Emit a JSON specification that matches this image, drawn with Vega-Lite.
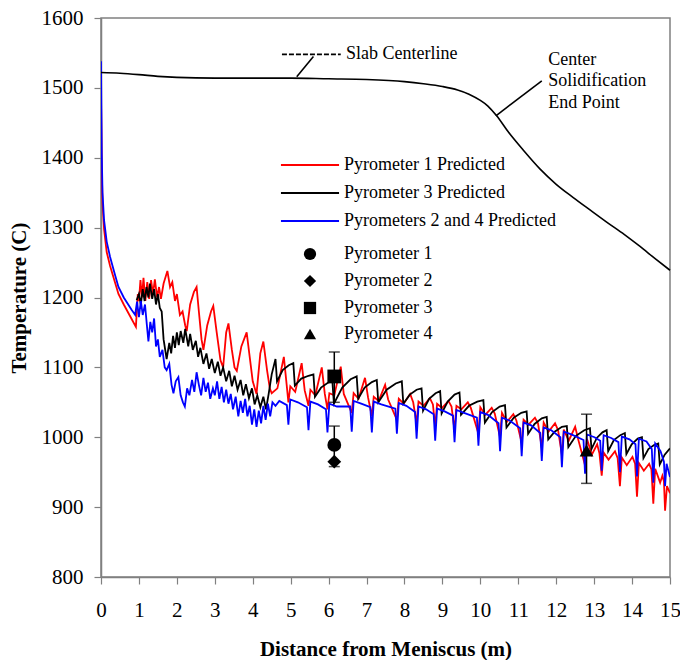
{
  "$schema": "https://vega.github.io/schema/vega-lite/v6.json",
  "width": 569,
  "height": 559,
  "autosize": {"type": "none"},
  "padding": {"left": 101, "top": 18, "right": 10, "bottom": 83},
  "background": "white",
  "config": {
    "font": "Liberation Serif",
    "view": {"stroke": "#808080", "strokeWidth": 1.5},
    "axis": {
      "grid": false, "domainColor": "#808080", "tickColor": "#808080", "domainWidth": 1.5, "tickWidth": 1.2,
      "labelColor": "#000", "titleColor": "#000", "labelFont": "Liberation Serif", "titleFont": "Liberation Serif",
      "labelFontSize": 21, "titleFontSize": 21, "titleFontWeight": "bold", "tickSize": 7, "labelFlush": false
    }
  },
  "datasets": {
    "red": [
      {"x":0,"y":1490},{"x":0.01,"y":1440},{"x":0.02,"y":1385},{"x":0.04,"y":1335},{"x":0.08,"y":1298},{"x":0.15,"y":1265},{"x":0.24,"y":1245},{"x":0.35,"y":1225},{"x":0.46,"y":1205},{"x":0.6,"y":1190},{"x":0.8,"y":1170},{"x":0.92,"y":1158},
      {"x":0.97,"y":1205},{"x":1.0,"y":1195},{"x":1.04,"y":1225},{"x":1.08,"y":1200},{"x":1.12,"y":1228},{"x":1.17,"y":1195},{"x":1.22,"y":1222},{"x":1.27,"y":1198},{"x":1.32,"y":1225},{"x":1.37,"y":1205},{"x":1.42,"y":1226},{"x":1.48,"y":1200},{"x":1.53,"y":1215},{"x":1.58,"y":1198},{"x":1.65,"y":1220},{"x":1.75,"y":1238},{"x":1.82,"y":1215},{"x":1.88,"y":1222},{"x":1.95,"y":1195},{"x":2.0,"y":1205},{"x":2.08,"y":1175},{"x":2.15,"y":1180},{"x":2.22,"y":1160},{"x":2.26,"y":1152},{"x":2.35,"y":1190},{"x":2.45,"y":1208},{"x":2.52,"y":1215},{"x":2.58,"y":1180},{"x":2.65,"y":1140},{"x":2.7,"y":1125},{"x":2.8,"y":1160},{"x":2.9,"y":1180},{"x":2.96,"y":1188},{"x":3.05,"y":1150},{"x":3.15,"y":1110},{"x":3.22,"y":1100},{"x":3.3,"y":1150},{"x":3.36,"y":1163},{"x":3.45,"y":1125},{"x":3.52,"y":1100},{"x":3.58,"y":1095},{"x":3.7,"y":1130},{"x":3.84,"y":1150},{"x":3.92,"y":1115},{"x":4.0,"y":1080},{"x":4.1,"y":1062},{"x":4.2,"y":1120},{"x":4.28,"y":1137},{"x":4.38,"y":1095},{"x":4.45,"y":1070},{"x":4.5,"y":1063},
      {"x":4.65,"y":1070},{"x":4.82,"y":1115},{"x":4.9,"y":1072},{"x":4.94,"y":1050},{"x":4.99,"y":1073},
      {"x":5.12,"y":1065},{"x":5.29,"y":1106},{"x":5.37,"y":1067},{"x":5.47,"y":1045},{"x":5.52,"y":1068},
      {"x":5.65,"y":1060},{"x":5.82,"y":1100},{"x":5.9,"y":1062},{"x":5.97,"y":1040},{"x":6.02,"y":1063},
      {"x":6.15,"y":1060},{"x":6.32,"y":1101},{"x":6.4,"y":1062},{"x":6.61,"y":1035},{"x":6.66,"y":1063},
      {"x":6.79,"y":1055},{"x":6.96,"y":1085},{"x":7.04,"y":1057},{"x":7.14,"y":1030},{"x":7.19,"y":1058},
      {"x":7.32,"y":1052},{"x":7.49,"y":1075},{"x":7.57,"y":1054},{"x":7.8,"y":1025},{"x":7.85,"y":1055},
      {"x":7.98,"y":1048},{"x":8.15,"y":1062},{"x":8.23,"y":1050},{"x":8.32,"y":1020},{"x":8.37,"y":1051},
      {"x":8.5,"y":1045},{"x":8.67,"y":1056},{"x":8.75,"y":1047},{"x":8.81,"y":1015},{"x":8.86,"y":1048},
      {"x":8.99,"y":1042},{"x":9.16,"y":1052},{"x":9.24,"y":1044},{"x":9.32,"y":1010},{"x":9.37,"y":1045},
      {"x":9.5,"y":1040},{"x":9.67,"y":1050},{"x":9.75,"y":1042},{"x":9.95,"y":1005},{"x":10.0,"y":1043},
      {"x":10.13,"y":1032},{"x":10.3,"y":1042},{"x":10.38,"y":1034},{"x":10.52,"y":1000},{"x":10.57,"y":1035},
      {"x":10.7,"y":1022},{"x":10.87,"y":1033},{"x":10.95,"y":1024},{"x":11.09,"y":992},{"x":11.14,"y":1025},
      {"x":11.27,"y":1018},{"x":11.44,"y":1028},{"x":11.52,"y":1020},{"x":11.62,"y":985},{"x":11.67,"y":1021},
      {"x":11.8,"y":1008},{"x":11.97,"y":1020},{"x":12.05,"y":1010},{"x":12.15,"y":975},{"x":12.2,"y":1011},
      {"x":12.33,"y":995},{"x":12.5,"y":1015},{"x":12.58,"y":997},{"x":12.76,"y":960},{"x":12.81,"y":998},
      {"x":12.94,"y":975},{"x":13.08,"y":990},{"x":13.14,"y":977},{"x":13.2,"y":945},{"x":13.25,"y":978},
      {"x":13.38,"y":968},{"x":13.55,"y":980},{"x":13.62,"y":970},{"x":13.68,"y":930},{"x":13.73,"y":971},
      {"x":13.86,"y":960},{"x":14.01,"y":972},{"x":14.08,"y":962},{"x":14.13,"y":915},{"x":14.18,"y":963},
      {"x":14.31,"y":952},{"x":14.45,"y":962},{"x":14.51,"y":954},{"x":14.56,"y":905},{"x":14.61,"y":955},
      {"x":14.74,"y":935},{"x":14.8,"y":945},{"x":14.84,"y":937},{"x":14.87,"y":895},{"x":14.92,"y":930},{"x":15.0,"y":920}
    ],
    "black": [
      {"x":0.94,"y":1196},{"x":1.0,"y":1205},{"x":1.05,"y":1190},{"x":1.1,"y":1212},{"x":1.15,"y":1195},{"x":1.2,"y":1215},{"x":1.25,"y":1200},{"x":1.29,"y":1220},{"x":1.35,"y":1198},{"x":1.4,"y":1212},{"x":1.45,"y":1190},{"x":1.5,"y":1205},{"x":1.55,"y":1185},{"x":1.6,"y":1180},{"x":1.65,"y":1140},{"x":1.73,"y":1112},{"x":1.8,"y":1135},{"x":1.85,"y":1120},{"x":1.9,"y":1145},{"x":1.95,"y":1128},{"x":2.0,"y":1150},{"x":2.05,"y":1132},{"x":2.1,"y":1152},{"x":2.17,"y":1135},{"x":2.22,"y":1155},{"x":2.3,"y":1130},{"x":2.35,"y":1148},{"x":2.42,"y":1125},{"x":2.5,"y":1138},{"x":2.56,"y":1115},{"x":2.62,"y":1128},{"x":2.7,"y":1105},{"x":2.78,"y":1120},{"x":2.85,"y":1098},{"x":2.92,"y":1112},{"x":3.0,"y":1092},{"x":3.08,"y":1108},{"x":3.15,"y":1088},{"x":3.22,"y":1100},{"x":3.3,"y":1080},{"x":3.38,"y":1095},{"x":3.45,"y":1073},{"x":3.52,"y":1088},{"x":3.6,"y":1068},{"x":3.68,"y":1082},{"x":3.75,"y":1060},{"x":3.82,"y":1076},{"x":3.9,"y":1056},{"x":3.98,"y":1070},{"x":4.05,"y":1047},{"x":4.12,"y":1060},{"x":4.2,"y":1043},{"x":4.28,"y":1058},{"x":4.35,"y":1040},{"x":4.42,"y":1062},{"x":4.5,"y":1090},{"x":4.6,"y":1112},
      {"x":4.64,"y":1080},{"x":4.79,"y":1096},{"x":4.95,"y":1103},{"x":5.07,"y":1106},{"x":5.11,"y":1074},{"x":5.28,"y":1084},{"x":5.47,"y":1088},{"x":5.6,"y":1090},{"x":5.64,"y":1058},{"x":5.8,"y":1071},{"x":5.98,"y":1078},{"x":6.1,"y":1080},{"x":6.14,"y":1048},{"x":6.36,"y":1071},{"x":6.58,"y":1083},{"x":6.74,"y":1087},{"x":6.78,"y":1055},{"x":6.95,"y":1071},{"x":7.14,"y":1079},{"x":7.27,"y":1082},{"x":7.31,"y":1050},{"x":7.53,"y":1068},{"x":7.77,"y":1077},{"x":7.93,"y":1080},{"x":7.97,"y":1048},{"x":8.14,"y":1061},{"x":8.32,"y":1068},{"x":8.45,"y":1070},{"x":8.49,"y":1038},{"x":8.65,"y":1055},{"x":8.82,"y":1063},{"x":8.94,"y":1066},{"x":8.98,"y":1034},{"x":9.14,"y":1051},{"x":9.32,"y":1061},{"x":9.45,"y":1064},{"x":9.49,"y":1032},{"x":9.7,"y":1045},{"x":9.92,"y":1051},{"x":10.08,"y":1053},{"x":10.12,"y":1021},{"x":10.31,"y":1036},{"x":10.51,"y":1044},{"x":10.65,"y":1046},{"x":10.69,"y":1014},{"x":10.88,"y":1028},{"x":11.08,"y":1035},{"x":11.22,"y":1037},{"x":11.26,"y":1005},{"x":11.43,"y":1019},{"x":11.62,"y":1027},{"x":11.75,"y":1029},{"x":11.79,"y":997},{"x":11.96,"y":1008},{"x":12.15,"y":1015},{"x":12.28,"y":1016},{"x":12.32,"y":986},{"x":12.52,"y":1002},{"x":12.74,"y":1010},{"x":12.89,"y":1013},{"x":12.93,"y":983},{"x":13.07,"y":999},{"x":13.22,"y":1007},{"x":13.33,"y":1010},{"x":13.37,"y":980},{"x":13.52,"y":996},{"x":13.69,"y":1003},{"x":13.81,"y":1006},{"x":13.85,"y":976},{"x":13.99,"y":990},{"x":14.15,"y":998},{"x":14.26,"y":1000},{"x":14.3,"y":970},{"x":14.43,"y":983},{"x":14.58,"y":989},{"x":14.69,"y":991},{"x":14.73,"y":961},{"x":14.86,"y":975},{"x":15.0,"y":984}
    ],
    "blue": [
      {"x":0,"y":1538},{"x":0.01,"y":1470},{"x":0.02,"y":1406},{"x":0.04,"y":1350},{"x":0.08,"y":1311},{"x":0.15,"y":1280},{"x":0.24,"y":1258},{"x":0.35,"y":1236},{"x":0.46,"y":1215},{"x":0.6,"y":1200},{"x":0.81,"y":1182},{"x":0.9,"y":1175},
      {"x":0.95,"y":1194},{"x":1.0,"y":1172},{"x":1.05,"y":1195},{"x":1.1,"y":1175},{"x":1.16,"y":1190},{"x":1.21,"y":1160},{"x":1.25,"y":1137},{"x":1.3,"y":1165},{"x":1.35,"y":1150},{"x":1.4,"y":1170},{"x":1.45,"y":1130},{"x":1.5,"y":1140},{"x":1.55,"y":1115},{"x":1.62,"y":1125},{"x":1.68,"y":1100},{"x":1.73,"y":1096},{"x":1.8,"y":1105},{"x":1.86,"y":1075},{"x":1.91,"y":1063},{"x":1.97,"y":1080},{"x":2.04,"y":1086},{"x":2.1,"y":1060},{"x":2.16,"y":1050},{"x":2.21,"y":1044},{"x":2.27,"y":1070},{"x":2.33,"y":1060},{"x":2.4,"y":1082},{"x":2.46,"y":1065},{"x":2.52,"y":1093},{"x":2.58,"y":1075},{"x":2.64,"y":1060},{"x":2.7,"y":1085},{"x":2.76,"y":1065},{"x":2.82,"y":1078},{"x":2.88,"y":1055},{"x":2.95,"y":1070},{"x":3.0,"y":1060},{"x":3.06,"y":1080},{"x":3.12,"y":1055},{"x":3.18,"y":1072},{"x":3.24,"y":1050},{"x":3.3,"y":1068},{"x":3.36,"y":1048},{"x":3.42,"y":1062},{"x":3.48,"y":1040},{"x":3.55,"y":1058},{"x":3.62,"y":1030},{"x":3.68,"y":1052},{"x":3.74,"y":1035},{"x":3.8,"y":1055},{"x":3.86,"y":1030},{"x":3.92,"y":1045},{"x":3.98,"y":1018},{"x":4.04,"y":1040},{"x":4.1,"y":1015},{"x":4.16,"y":1038},{"x":4.22,"y":1020},{"x":4.28,"y":1045},{"x":4.34,"y":1025},{"x":4.4,"y":1048},{"x":4.46,"y":1030},{"x":4.52,"y":1050},{"x":4.6,"y":1045},{"x":4.7,"y":1052},
      {"x":4.9,"y":1046},{"x":4.94,"y":1018},{"x":4.99,"y":1054},{"x":5.19,"y":1050},
      {"x":5.43,"y":1043},{"x":5.47,"y":1010},{"x":5.52,"y":1051},{"x":5.72,"y":1047},
      {"x":5.93,"y":1040},{"x":5.97,"y":1007},{"x":6.02,"y":1048},{"x":6.22,"y":1044},
      {"x":6.57,"y":1044},{"x":6.61,"y":1008},{"x":6.66,"y":1052},{"x":6.86,"y":1048},
      {"x":7.1,"y":1043},{"x":7.14,"y":1007},{"x":7.19,"y":1051},{"x":7.39,"y":1047},
      {"x":7.76,"y":1041},{"x":7.8,"y":1005},{"x":7.85,"y":1049},{"x":8.05,"y":1045},
      {"x":8.28,"y":1036},{"x":8.32,"y":998},{"x":8.37,"y":1044},{"x":8.57,"y":1040},
      {"x":8.77,"y":1033},{"x":8.81,"y":995},{"x":8.86,"y":1041},{"x":9.06,"y":1037},
      {"x":9.28,"y":1031},{"x":9.32,"y":993},{"x":9.37,"y":1039},{"x":9.57,"y":1035},
      {"x":9.91,"y":1028},{"x":9.95,"y":988},{"x":10.0,"y":1036},{"x":10.2,"y":1032},
      {"x":10.48,"y":1020},{"x":10.52,"y":980},{"x":10.57,"y":1028},{"x":10.77,"y":1024},
      {"x":11.05,"y":1013},{"x":11.09,"y":973},{"x":11.14,"y":1021},{"x":11.34,"y":1017},
      {"x":11.58,"y":1006},{"x":11.62,"y":966},{"x":11.67,"y":1014},{"x":11.87,"y":1010},
      {"x":12.11,"y":1000},{"x":12.15,"y":957},{"x":12.2,"y":1008},{"x":12.4,"y":1004},
      {"x":12.72,"y":996},{"x":12.76,"y":948},{"x":12.81,"y":1004},{"x":13.01,"y":1000},
      {"x":13.16,"y":995},{"x":13.2,"y":952},{"x":13.25,"y":1003},{"x":13.45,"y":999},
      {"x":13.64,"y":993},{"x":13.68,"y":950},{"x":13.73,"y":1001},{"x":13.93,"y":997},
      {"x":14.09,"y":990},{"x":14.13,"y":944},{"x":14.18,"y":998},{"x":14.38,"y":994},
      {"x":14.52,"y":983},{"x":14.56,"y":935},{"x":14.61,"y":991},{"x":14.75,"y":980},
      {"x":14.84,"y":965},{"x":14.87,"y":930},{"x":14.91,"y":962},{"x":15.0,"y":943}
    ],
    "slab": [
      {"x":0,"y":1522},{"x":0.5,"y":1521},{"x":1,"y":1519},{"x":1.5,"y":1516.5},{"x":2,"y":1515},{"x":3,"y":1514},{"x":4,"y":1514},{"x":5,"y":1514},{"x":6,"y":1513},{"x":7,"y":1512},{"x":8,"y":1509},{"x":8.5,"y":1506},{"x":9,"y":1502},{"x":9.4,"y":1497},{"x":9.7,"y":1491},{"x":10.0,"y":1482},{"x":10.2,"y":1474},{"x":10.43,"y":1460},{"x":10.75,"y":1436},{"x":11.13,"y":1411},{"x":11.57,"y":1384},{"x":12.0,"y":1362},{"x":12.45,"y":1343},{"x":12.9,"y":1325},{"x":13.33,"y":1308},{"x":13.8,"y":1290},{"x":14.21,"y":1273},{"x":14.6,"y":1256},{"x":15,"y":1239}
    ],
    "meas": [
      {"x":6.15,"y":989,"s":"Pyrometer 1"},
      {"x":6.15,"y":965,"s":"Pyrometer 2"},
      {"x":6.15,"y":1087,"s":"Pyrometer 3"},
      {"x":12.8,"y":981,"s":"Pyrometer 4"}
    ],
    "bars": [
      {"x":6.15,"y":958,"y2":1016},
      {"x":6.15,"y":1050,"y2":1122},
      {"x":12.8,"y":934,"y2":1033}
    ],
    "caps": [
      {"x":6.15,"y":1016},{"x":6.15,"y":958},{"x":6.15,"y":1122},{"x":6.15,"y":1050},{"x":12.8,"y":1033},{"x":12.8,"y":934}
    ],
    "leaders": [
      {"x":5.6,"y":1545,"x2":5.16,"y2":1516},
      {"x":11.62,"y":1510,"x2":10.41,"y2":1460}
    ],
    "dashlead": [
      {"x":4.77,"y":1548,"x2":6.32,"y2":1548}
    ],
    "notes": [
      {"x":6.46,"y":1549,"t":"Slab Centerline"},
      {"x":11.79,"y":1540.6,"t":"Center"},
      {"x":11.79,"y":1509.6,"t":"Solidification"},
      {"x":11.79,"y":1478.5,"t":"End Point"}
    ]
  },
  "encoding": {
    "x": {"field": "x", "type": "quantitative",
      "scale": {"domain": [0, 15], "nice": false, "zero": false},
      "axis": {"values": [0,1,2,3,4,5,6,7,8,9,10,11,12,13,14,15], "format": "d", "labelFont": "Liberation Serif", "labelFontSize": 21, "labelPadding": 15,
        "title": "Distance from Meniscus (m)", "titleFont": "Liberation Serif", "titleFontSize": 21, "titleFontWeight": "bold", "titlePadding": 18}},
    "y": {"field": "y", "type": "quantitative",
      "scale": {"domain": [800, 1600], "nice": false, "zero": false},
      "axis": {"values": [800,900,1000,1100,1200,1300,1400,1500,1600], "format": "d", "labelFont": "Liberation Serif", "labelFontSize": 21, "labelPadding": 11,
        "title": "Temperature (C)", "titleFont": "Liberation Serif", "titleFontSize": 21, "titleFontWeight": "bold", "titlePadding": 12}}
  },
  "layer": [
    {"data": {"name": "red"}, "mark": {"type": "line", "strokeWidth": 1.8, "clip": true},
      "encoding": {"color": {"datum": "Pyrometer 1 Predicted",
        "scale": {"domain": ["Pyrometer 1 Predicted", "Pyrometer 3 Predicted", "Pyrometers 2 and 4 Predicted"], "range": ["#ff0000", "#000000", "#0000ff"]},
        "legend": {"orient": "none", "legendX": 200, "legendY": 138, "title": null, "symbolType": "M-5,0H5", "symbolSize": 135, "symbolStrokeWidth": 2, "labelFontSize": 18, "labelFont": "Liberation Serif", "labelColor": "#000", "labelOffset": 25, "labelLimit": 0, "rowPadding": 10, "padding": 0}}}},
    {"data": {"name": "black"}, "mark": {"type": "line", "strokeWidth": 1.8, "clip": true},
      "encoding": {"color": {"datum": "Pyrometer 3 Predicted"}}},
    {"data": {"name": "blue"}, "mark": {"type": "line", "strokeWidth": 1.8, "clip": true},
      "encoding": {"color": {"datum": "Pyrometers 2 and 4 Predicted"}}},
    {"data": {"name": "slab"}, "mark": {"type": "line", "strokeWidth": 1.6, "color": "#000", "interpolate": "monotone"}, "encoding": {}},
    {"data": {"name": "leaders"}, "mark": {"type": "rule", "strokeWidth": 1.6, "color": "#000"},
      "encoding": {"x2": {"field": "x2"}, "y2": {"field": "y2"}}},
    {"data": {"name": "dashlead"}, "mark": {"type": "rule", "strokeWidth": 1.6, "color": "#000", "strokeDash": [5, 2]},
      "encoding": {"x2": {"field": "x2"}, "y2": {"field": "y2"}}},
    {"data": {"name": "notes"}, "mark": {"type": "text", "align": "left", "baseline": "middle", "fontSize": 18, "font": "Liberation Serif", "color": "#000"},
      "encoding": {"text": {"field": "t"}}},
    {"data": {"name": "bars"}, "mark": {"type": "rule", "strokeWidth": 1.5, "color": "#000"},
      "encoding": {"y2": {"field": "y2"}}},
    {"data": {"name": "caps"}, "mark": {"type": "tick", "orient": "horizontal", "size": 11, "thickness": 1.5, "color": "#000"}, "encoding": {}},
    {"data": {"name": "meas"}, "mark": {"type": "point", "filled": true, "opacity": 1, "size": 190, "color": "#000"},
      "encoding": {"shape": {"field": "s", "type": "nominal",
        "scale": {"domain": ["Pyrometer 1", "Pyrometer 2", "Pyrometer 3", "Pyrometer 4"], "range": ["circle", "diamond", "square", "triangle-up"]},
        "legend": {"orient": "none", "legendX": 200, "legendY": 227, "title": null, "symbolSize": 150, "symbolFillColor": "#000", "symbolStrokeColor": "#000", "symbolOpacity": 1, "labelFontSize": 18, "labelFont": "Liberation Serif", "labelColor": "#000", "labelOffset": 25, "labelLimit": 0, "rowPadding": 7, "padding": 0}}}}
  ]
}
